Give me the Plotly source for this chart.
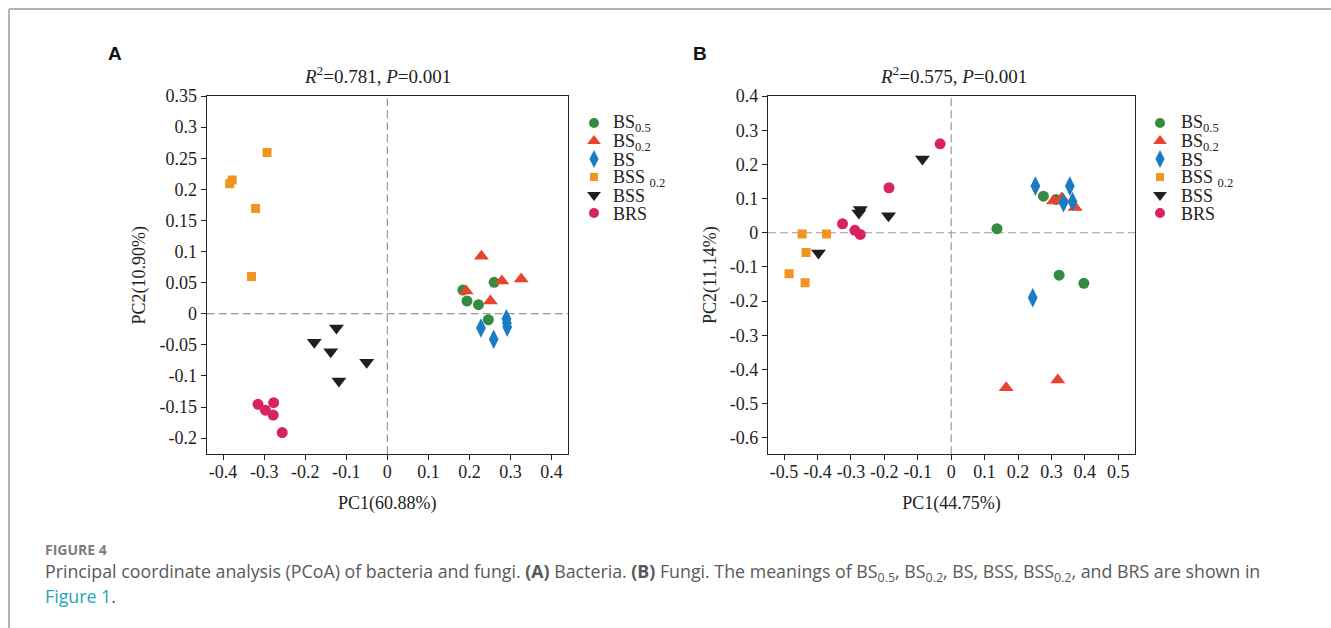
import plotly.graph_objects as go

W, H = 1331, 628

# ---------------- data ----------------
GROUP_LABELS = ["BS<sub>0.5</sub>", "BS<sub>0.2</sub>", "BS", "BSS <sub>0.2</sub>", "BSS", "BRS"]
GROUP_COLORS = ["#338c3f", "#e8432f", "#1a7cc2", "#f29420", "#1f1f1f", "#d8235e"]
GROUP_SYMBOLS = ["circle", "triangle-up", "diamond-tall", "square", "triangle-down", "circle"]
GROUP_SIZES = [11, 13, 14, 9, 13, 11]

# Panel A : bacteria
A_BS05_X = [0.184, 0.260, 0.194, 0.222, 0.246]
A_BS05_Y = [0.038, 0.0505, 0.0204, 0.0145, -0.0097]
A_BS02_X = [0.229, 0.279, 0.326, 0.192, 0.251]
A_BS02_Y = [0.0925, 0.0527, 0.056, 0.0366, 0.0204]
A_BS_X = [0.290, 0.291, 0.292, 0.228, 0.259]
A_BS_Y = [-0.008, -0.015, -0.0215, -0.023, -0.041]
A_BSS02_X = [-0.293, -0.378, -0.384, -0.321, -0.331]
A_BSS02_Y = [0.259, 0.215, 0.209, 0.169, 0.060]
A_BSS_X = [-0.124, -0.178, -0.138, -0.0503, -0.118]
A_BSS_Y = [-0.023, -0.0457, -0.0613, -0.078, -0.108]
A_BRS_X = [-0.315, -0.277, -0.297, -0.278, -0.256]
A_BRS_Y = [-0.1457, -0.143, -0.155, -0.163, -0.191]

# Panel B : fungi
B_BS05_X = [0.276, 0.314, 0.137, 0.323, 0.397]
B_BS05_Y = [0.107, 0.0976, 0.012, -0.124, -0.148]
B_BS02_X = [0.306, 0.331, 0.371, 0.1645, 0.319]
B_BS02_Y = [0.0927, 0.102, 0.074, -0.453, -0.431]
B_BS_X = [0.252, 0.355, 0.336, 0.363, 0.244]
B_BS_Y = [0.1365, 0.1365, 0.088, 0.091, -0.190]
B_BSS02_X = [-0.446, -0.373, -0.434, -0.485, -0.437]
B_BSS02_Y = [-0.004, -0.004, -0.058, -0.120, -0.146]
B_BSS_X = [-0.086, -0.272, -0.276, -0.1875, -0.397]
B_BSS_Y = [0.2155, 0.068, 0.058, 0.050, -0.059]
B_BRS_X = [-0.033, -0.186, -0.325, -0.288, -0.272]
B_BRS_Y = [0.260, 0.1316, 0.026, 0.007, -0.005]

A_X_TICKS = [-0.4, -0.3, -0.2, -0.1, 0, 0.1, 0.2, 0.3, 0.4]
A_X_TICKTEXT = ["-0.4", "-0.3", "-0.2", "-0.1", "0", "0.1", "0.2", "0.3", "0.4"]
A_Y_TICKS = [-0.2, -0.15, -0.1, -0.05, 0, 0.05, 0.1, 0.15, 0.2, 0.25, 0.3, 0.35]
A_Y_TICKTEXT = ["-0.2", "-0.15", "-0.1", "-0.05", "0", "0.05", "0.1", "0.15", "0.2", "0.25", "0.3", "0.35"]
B_X_TICKS = [-0.5, -0.4, -0.3, -0.2, -0.1, 0, 0.1, 0.2, 0.3, 0.4, 0.5]
B_X_TICKTEXT = ["-0.5", "-0.4", "-0.3", "-0.2", "-0.1", "0", "0.1", "0.2", "0.3", "0.4", "0.5"]
B_Y_TICKS = [-0.6, -0.5, -0.4, -0.3, -0.2, -0.1, 0, 0.1, 0.2, 0.3, 0.4]
B_Y_TICKTEXT = ["-0.6", "-0.5", "-0.4", "-0.3", "-0.2", "-0.1", "0", "0.1", "0.2", "0.3", "0.4"]

A_TITLE = "<i>R</i><sup>2</sup>=0.781, <i>P</i>=0.001"
B_TITLE = "<i>R</i><sup>2</sup>=0.575, <i>P</i>=0.001"
A_XLABEL, A_YLABEL = "PC1(60.88%)", "PC2(10.90%)"
B_XLABEL, B_YLABEL = "PC1(44.75%)", "PC2(11.14%)"

A_SERIES = [(A_BS05_X, A_BS05_Y), (A_BS02_X, A_BS02_Y), (A_BS_X, A_BS_Y),
            (A_BSS02_X, A_BSS02_Y), (A_BSS_X, A_BSS_Y), (A_BRS_X, A_BRS_Y)]
B_SERIES = [(B_BS05_X, B_BS05_Y), (B_BS02_X, B_BS02_Y), (B_BS_X, B_BS_Y),
            (B_BSS02_X, B_BSS02_Y), (B_BSS_X, B_BSS_Y), (B_BRS_X, B_BRS_Y)]

# ---------------- layout helpers ----------------
def px_x(p):
    return p / W

def px_y(p):
    return 1 - p / H

SERIF = "Liberation Serif, Times New Roman, serif"
SANS = "Liberation Sans, Arial, sans-serif"
CAP = "Open Sans, Noto Sans, sans-serif"
INK = "#222222"

fig = go.Figure()

for series, xa, ya in ((A_SERIES, "x", "y"), (B_SERIES, "x2", "y2")):
    for i, (xs, ys) in enumerate(series):
        fig.add_trace(go.Scatter(
            x=xs, y=ys, mode="markers", xaxis=xa, yaxis=ya, showlegend=False,
            marker=dict(symbol=GROUP_SYMBOLS[i], color=GROUP_COLORS[i],
                        size=GROUP_SIZES[i], line=dict(width=0)),
        ))

# legend keys drawn on a full-figure pixel overlay axis
LEG_ROW0, LEG_STEP = 123, 18
for lx in (594, 1160):
    for i in range(len(GROUP_LABELS)):
        fig.add_trace(go.Scatter(
            x=[lx], y=[LEG_ROW0 + LEG_STEP * i], mode="markers", xaxis="x3", yaxis="y3",
            showlegend=False, hoverinfo="skip",
            marker=dict(symbol=GROUP_SYMBOLS[i], color=GROUP_COLORS[i],
                        size=GROUP_SIZES[i] - 1, line=dict(width=0)),
        ))

def axis_common(ticks, ticktext, rng, title, standoff, labeloff=0):
    return dict(
        range=rng, tickmode="array", tickvals=ticks, ticktext=ticktext,
        showline=True, linecolor=INK, linewidth=1.2, mirror=True,
        ticks="outside", ticklen=5, tickwidth=1, tickcolor=INK,
        showgrid=False, zeroline=False, automargin=False,
        ticklabelstandoff=labeloff,
        tickfont=dict(family=SERIF, size=18, color=INK),
        title=dict(text=title, font=dict(family=SERIF, size=18, color=INK), standoff=standoff),
    )

A_XDOM = [px_x(206.7), px_x(568)]
B_XDOM = [px_x(768), px_x(1135)]
YDOM = [px_y(454.3), px_y(96)]

fig.update_layout(
    width=W, height=H,
    margin=dict(l=0, r=0, t=0, b=0, pad=0, autoexpand=False),
    paper_bgcolor="white", plot_bgcolor="rgba(0,0,0,0)",
    xaxis=dict(domain=A_XDOM, anchor="y", **axis_common(A_X_TICKS, A_X_TICKTEXT, [-0.44, 0.44], A_XLABEL, 15, -4)),
    yaxis=dict(domain=YDOM, anchor="x", **axis_common(A_Y_TICKS, A_Y_TICKTEXT, [-0.226, 0.35], A_YLABEL, 9)),
    xaxis2=dict(domain=B_XDOM, anchor="y2", **axis_common(B_X_TICKS, B_X_TICKTEXT, [-0.548, 0.55], B_XLABEL, 15, -4)),
    yaxis2=dict(domain=YDOM, anchor="x2", **axis_common(B_Y_TICKS, B_Y_TICKTEXT, [-0.648, 0.4], B_YLABEL, 8)),
    xaxis3=dict(domain=[0, 1], anchor="y3", range=[0, W], visible=False, fixedrange=True, automargin=False),
    yaxis3=dict(domain=[0, 1], anchor="x3", range=[H, 0], visible=False, fixedrange=True, automargin=False),
    showlegend=False,
)

shapes = []
for xr, yr in (("x", "y"), ("x2", "y2")):
    shapes.append(dict(type="line", xref=xr, x0=0, x1=0, yref=yr + " domain", y0=0, y1=1,
                       line=dict(color="#9a9a9a", width=1.2, dash="8px,4px"), layer="below"))
    shapes.append(dict(type="line", yref=yr, y0=0, y1=0, xref=xr + " domain", x0=0, x1=1,
                       line=dict(color="#9a9a9a", width=1.2, dash="8px,4px"), layer="below"))
# outer frame (top and left rules)
shapes.append(dict(type="line", xref="paper", yref="paper", x0=px_x(9), x1=1, y0=px_y(9), y1=px_y(9),
                   line=dict(color="#b4b4b4", width=2)))
shapes.append(dict(type="line", xref="paper", yref="paper", x0=px_x(9), x1=px_x(9), y0=px_y(9), y1=0,
                   line=dict(color="#b4b4b4", width=2)))
fig.update_layout(shapes=shapes)

ann = []
ann.append(dict(text="<b>A</b>", x=px_x(115), y=px_y(53), xref="paper", yref="paper",
                showarrow=False, xanchor="center", yanchor="middle",
                font=dict(family=SANS, size=19, color="#111")))
ann.append(dict(text="<b>B</b>", x=px_x(700), y=px_y(53), xref="paper", yref="paper",
                showarrow=False, xanchor="center", yanchor="middle",
                font=dict(family=SANS, size=19, color="#111")))
ann.append(dict(text=A_TITLE, x=px_x(377), y=px_y(75), xref="paper", yref="paper",
                showarrow=False, xanchor="center", yanchor="middle",
                font=dict(family=SERIF, size=19, color=INK)))
ann.append(dict(text=B_TITLE, x=px_x(953), y=px_y(75), xref="paper", yref="paper",
                showarrow=False, xanchor="center", yanchor="middle",
                font=dict(family=SERIF, size=19, color=INK)))
for tx in (612, 1180):
    for i, lab in enumerate(GROUP_LABELS):
        ann.append(dict(text=lab, x=px_x(tx), y=px_y(LEG_ROW0 + LEG_STEP * i + 1), xref="paper", yref="paper",
                        showarrow=False, xanchor="left", yanchor="middle", borderpad=0,
                        font=dict(family=SERIF, size=18, color=INK)))

ann.append(dict(text="<b>FIGURE 4</b>", x=px_x(43), y=px_y(549), xref="paper", yref="paper",
                showarrow=False, xanchor="left", yanchor="middle",
                font=dict(family=CAP, size=14, color="#7d7d7d")))
ann.append(dict(text="Principal coordinate analysis (PCoA) of bacteria and fungi. <b>(A)</b> Bacteria. "
                     "<b>(B)</b> Fungi. The meanings of BS<sub>0.5</sub>, BS<sub>0.2</sub>, BS, BSS, "
                     "BSS<sub>0.2</sub>, and BRS are shown in",
                x=px_x(43), y=px_y(572), xref="paper", yref="paper",
                showarrow=False, xanchor="left", yanchor="middle",
                font=dict(family=CAP, size=17.8, color="#595959")))
ann.append(dict(text="<span style='color:#23a6b8'>Figure 1</span>.", x=px_x(43), y=px_y(596),
                xref="paper", yref="paper", showarrow=False, xanchor="left", yanchor="middle",
                font=dict(family=CAP, size=17.8, color="#595959")))
fig.update_layout(annotations=ann)

fig.write_html("out.html")
